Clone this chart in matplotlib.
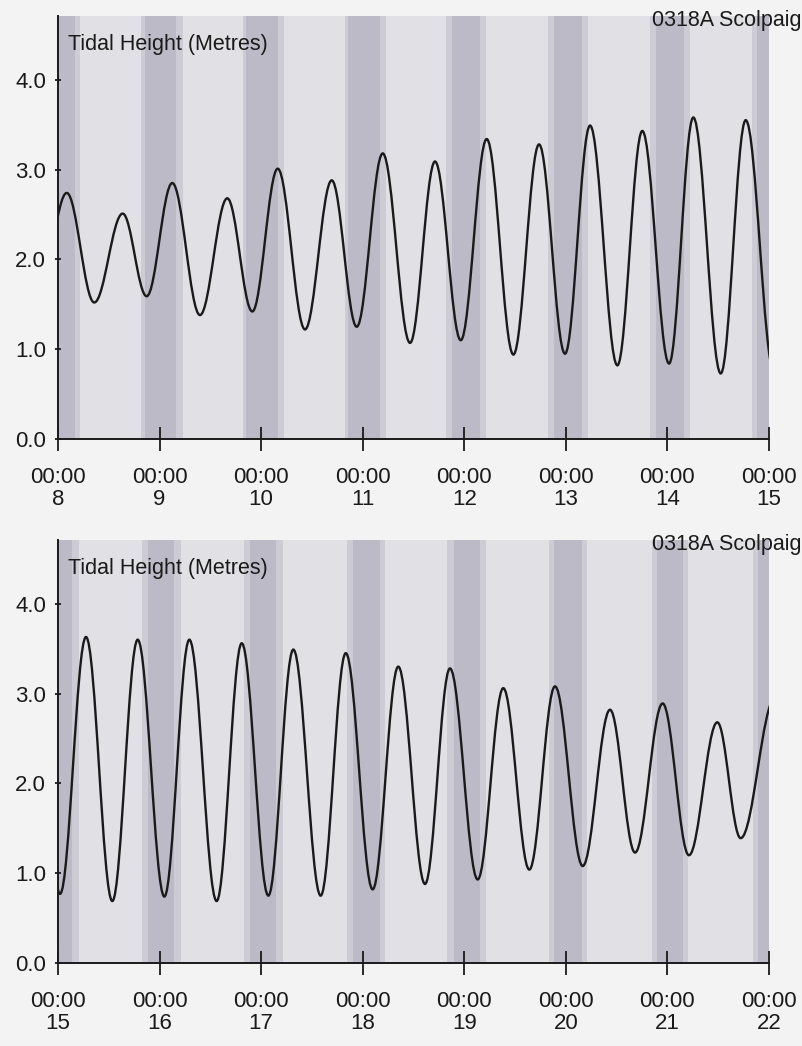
import matplotlib
matplotlib.use('Agg')
import matplotlib.pyplot as plt
from matplotlib.path import Path
from matplotlib.patches import PathPatch

station = '0318A Scolpaig'
y_title = 'Tidal Height (Metres)'

# high / low waters ('DD HH:MM', metres)
week1_times = ['07 19:55', '08 02:04', '08 08:34', '08 15:17', '08 20:57',
               '09 03:00', '09 09:33', '09 16:00', '09 21:55', '10 03:55',
               '10 10:22', '10 16:41', '10 22:35', '11 04:44', '11 11:11',
               '11 17:05', '11 23:10', '12 05:18', '12 11:36', '12 17:40',
               '12 23:48', '13 05:43', '13 12:10', '13 18:04', '14 00:23',
               '14 06:07', '14 12:36', '14 18:30', '15 01:12']
week1_heights = [1.75, 2.74, 1.52, 2.51, 1.59,
                 2.85, 1.38, 2.68, 1.42, 3.01,
                 1.22, 2.88, 1.25, 3.18, 1.07,
                 3.09, 1.10, 3.34, 0.94, 3.28,
                 0.95, 3.49, 0.82, 3.43, 0.84,
                 3.58, 0.73, 3.55, 0.75]

week2_times = ['14 18:29', '15 00:29', '15 06:37', '15 12:50', '15 18:50',
               '16 01:08', '16 07:02', '16 13:29', '16 19:25', '17 01:42',
               '17 07:36', '17 14:04', '17 20:00', '18 02:21', '18 08:24',
               '18 14:43', '18 20:37', '19 03:10', '19 09:13', '19 15:22',
               '19 21:26', '20 03:59', '20 10:26', '20 16:21', '20 22:52',
               '21 05:05', '21 11:47', '21 17:18', '22 01:26']
week2_heights = [3.55, 0.77, 3.63, 0.69, 3.60,
                 0.74, 3.60, 0.69, 3.56, 0.75,
                 3.49, 0.75, 3.45, 0.82, 3.30,
                 0.88, 3.28, 0.93, 3.06, 1.04,
                 3.08, 1.08, 2.82, 1.23, 2.89,
                 1.20, 2.68, 1.39, 2.95]

# night shading around each midnight, hours relative to 00:00
night_days = [8, 9, 10, 11, 12, 13, 14, 15, 16, 17, 18, 19, 20, 21, 22]
twilight_start = [-4.5, -4.4, -4.4, -4.3, -4.3, -4.15, -4.1, -3.9,
                  -4.1, -4.0, -3.8, -4.1, -3.9, -3.7, -3.7]
dark_start = [-3.6, -3.5, -3.5, -3.4, -3.0, -2.7, -2.8, -2.9,
              -2.8, -2.6, -2.4, -2.45, -2.8, -2.55, -2.55]
dark_end = [4.0, 4.0, 3.95, 4.0, 3.8, 3.8, 3.9, 3.3,
            3.3, 3.45, 4.0, 3.7, 3.75, 3.75, 3.75]
twilight_end = [5.3, 5.5, 5.35, 5.5, 5.2, 5.3, 5.4, 5.0,
                5.05, 5.2, 5.25, 5.1, 4.95, 4.95, 4.95]

y_ticks = [0.0, 1.0, 2.0, 3.0, 4.0]
week1_days = [8, 9, 10, 11, 12, 13, 14, 15]
week2_days = [15, 16, 17, 18, 19, 20, 21, 22]

plt.rcParams['font.family'] = ['Liberation Sans', 'DejaVu Sans']

PLOT_BG = '#e0e0e5'
DARK = '#bbbac6'
TWILIGHT = '#cdccd5'
INK = '#1a1a1a'


def to_day(s):
    d, hm = s.split()
    h, m = hm.split(':')
    return int(d) + (int(h) + int(m) / 60.0) / 24.0


def tide_path(times, heights, k=0.364):
    # smooth curve through the turning points, flat at each high / low water
    days = [to_day(t) for t in times]
    verts = [(days[0], heights[0])]
    codes = [Path.MOVETO]
    for i in range(len(days) - 1):
        t0, h0 = days[i], heights[i]
        t1, h1 = days[i + 1], heights[i + 1]
        d = t1 - t0
        verts += [(t0 + k * d, h0), (t1 - k * d, h1), (t1, h1)]
        codes += [Path.CURVE4] * 3
    return Path(verts, codes)


def draw_panel(ax, times, heights, days):
    ax.set_facecolor(PLOT_BG)
    for i, nd in enumerate(night_days):
        ax.axvspan(nd + twilight_start[i] / 24, nd + dark_start[i] / 24,
                   color=TWILIGHT, lw=0, zorder=0)
        ax.axvspan(nd + dark_end[i] / 24, nd + twilight_end[i] / 24,
                   color=TWILIGHT, lw=0, zorder=0)
        ax.axvspan(nd + dark_start[i] / 24, nd + dark_end[i] / 24,
                   color=DARK, lw=0, zorder=0)

    ax.add_patch(PathPatch(tide_path(times, heights), fill=False,
                           ec=INK, lw=1.7, zorder=3))

    ax.set_xlim(days[0], days[-1])
    ax.set_ylim(0, 4.71)
    ax.set_yticks(y_ticks)
    ax.set_yticklabels(['%.1f' % v for v in y_ticks], fontsize=16, color=INK)
    ax.set_xticks(days)
    ax.set_xticklabels(['00:00\n%d' % d for d in days], fontsize=16,
                       color=INK, linespacing=1.05)
    ax.tick_params(axis='x', direction='inout', length=17, width=1.3,
                   pad=12, color=INK)
    ax.tick_params(axis='y', direction='inout', length=5, width=1.3,
                   pad=6, color=INK)
    for s in ['top', 'right']:
        ax.spines[s].set_visible(False)
    for s in ['left', 'bottom']:
        ax.spines[s].set_linewidth(1.4)
        ax.spines[s].set_color(INK)
        ax.spines[s].set_zorder(4)
    ax.text(0.014, 0.9196, y_title, transform=ax.transAxes, fontsize=15.5,
            color=INK, va='baseline', ha='left', zorder=5)


fig = plt.figure(figsize=(8.03, 10.46), dpi=100, facecolor='#f3f3f3')

ax1 = fig.add_axes([58 / 803, 607 / 1046, 711 / 803, 423 / 1046])
draw_panel(ax1, week1_times, week1_heights, week1_days)

ax2 = fig.add_axes([58 / 803, 83 / 1046, 711 / 803, 423 / 1046])
draw_panel(ax2, week2_times, week2_heights, week2_days)

fig.text(802 / 803, 1 - 26 / 1046, station, fontsize=15.5, color=INK,
         ha='right', va='baseline', zorder=10)
fig.text(802 / 803, 1 - 550 / 1046, station, fontsize=15.5, color=INK,
         ha='right', va='baseline', zorder=10)

fig.savefig('out.png', dpi=100, facecolor=fig.get_facecolor())
